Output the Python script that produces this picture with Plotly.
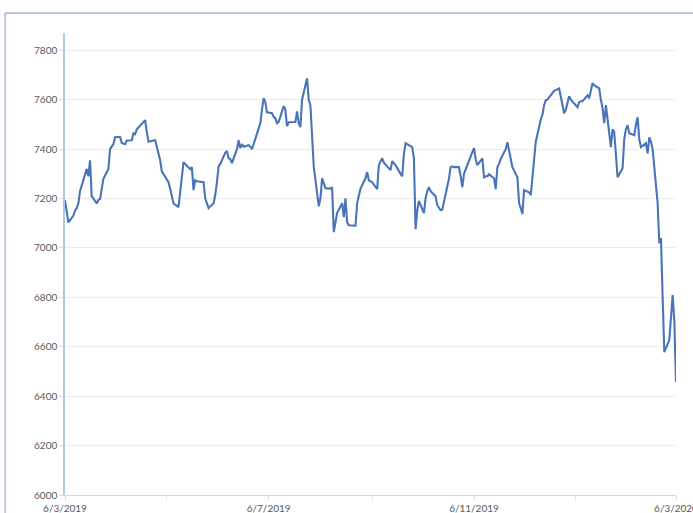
import plotly.graph_objects as go

dates = [
    "2019-03-06", "2019-03-07", "2019-03-08", "2019-03-11", "2019-03-12", "2019-03-13", "2019-03-14", "2019-03-15",
    "2019-03-18", "2019-03-19", "2019-03-20", "2019-03-21", "2019-03-22", "2019-03-25", "2019-03-26", "2019-03-27",
    "2019-03-28", "2019-03-29", "2019-04-01", "2019-04-02", "2019-04-03", "2019-04-04", "2019-04-05", "2019-04-08",
    "2019-04-09", "2019-04-10", "2019-04-11", "2019-04-12", "2019-04-15", "2019-04-16", "2019-04-17", "2019-04-18",
    "2019-04-23", "2019-04-24", "2019-04-25", "2019-04-26", "2019-04-29", "2019-04-30", "2019-05-01", "2019-05-02",
    "2019-05-03", "2019-05-07", "2019-05-08", "2019-05-09", "2019-05-10", "2019-05-13", "2019-05-14", "2019-05-15",
    "2019-05-16", "2019-05-17", "2019-05-20", "2019-05-21", "2019-05-22", "2019-05-23", "2019-05-24", "2019-05-28",
    "2019-05-29", "2019-05-30", "2019-05-31", "2019-06-03", "2019-06-04", "2019-06-05", "2019-06-06", "2019-06-07",
    "2019-06-10", "2019-06-11", "2019-06-12", "2019-06-13", "2019-06-14", "2019-06-17", "2019-06-18", "2019-06-19",
    "2019-06-20", "2019-06-21", "2019-06-24", "2019-06-25", "2019-06-26", "2019-06-27", "2019-06-28", "2019-07-01",
    "2019-07-02", "2019-07-03", "2019-07-04", "2019-07-05", "2019-07-08", "2019-07-09", "2019-07-10", "2019-07-11",
    "2019-07-12", "2019-07-15", "2019-07-16", "2019-07-17", "2019-07-18", "2019-07-19", "2019-07-22", "2019-07-23",
    "2019-07-24", "2019-07-25", "2019-07-26", "2019-07-29", "2019-07-30", "2019-07-31", "2019-08-01", "2019-08-02",
    "2019-08-05", "2019-08-06", "2019-08-07", "2019-08-08", "2019-08-09", "2019-08-12", "2019-08-13", "2019-08-14",
    "2019-08-15", "2019-08-16", "2019-08-19", "2019-08-20", "2019-08-21", "2019-08-22", "2019-08-23", "2019-08-27",
    "2019-08-28", "2019-08-29", "2019-08-30", "2019-09-02", "2019-09-03", "2019-09-04", "2019-09-05", "2019-09-06",
    "2019-09-09", "2019-09-10", "2019-09-11", "2019-09-12", "2019-09-13", "2019-09-16", "2019-09-17", "2019-09-18",
    "2019-09-19", "2019-09-20", "2019-09-23", "2019-09-24", "2019-09-25", "2019-09-26", "2019-09-27", "2019-09-30",
    "2019-10-01", "2019-10-02", "2019-10-03", "2019-10-04", "2019-10-07", "2019-10-08", "2019-10-09", "2019-10-10",
    "2019-10-11", "2019-10-14", "2019-10-15", "2019-10-16", "2019-10-17", "2019-10-18", "2019-10-21", "2019-10-22",
    "2019-10-23", "2019-10-24", "2019-10-25", "2019-10-28", "2019-10-29", "2019-10-30", "2019-10-31", "2019-11-01",
    "2019-11-04", "2019-11-05", "2019-11-06", "2019-11-07", "2019-11-08", "2019-11-11", "2019-11-12", "2019-11-13",
    "2019-11-14", "2019-11-15", "2019-11-18", "2019-11-19", "2019-11-20", "2019-11-21", "2019-11-22", "2019-11-25",
    "2019-11-26", "2019-11-27", "2019-11-28", "2019-11-29", "2019-12-02", "2019-12-03", "2019-12-04", "2019-12-05",
    "2019-12-06", "2019-12-09", "2019-12-10", "2019-12-11", "2019-12-12", "2019-12-13", "2019-12-16", "2019-12-17",
    "2019-12-18", "2019-12-19", "2019-12-20", "2019-12-23", "2019-12-24", "2019-12-27", "2019-12-30", "2019-12-31",
    "2020-01-02", "2020-01-03", "2020-01-06", "2020-01-07", "2020-01-08", "2020-01-09", "2020-01-10", "2020-01-13",
    "2020-01-14", "2020-01-15", "2020-01-16", "2020-01-17", "2020-01-20", "2020-01-21", "2020-01-22", "2020-01-23",
    "2020-01-24", "2020-01-27", "2020-01-28", "2020-01-29", "2020-01-30", "2020-01-31", "2020-02-03", "2020-02-04",
    "2020-02-05", "2020-02-06", "2020-02-07", "2020-02-10", "2020-02-11", "2020-02-12", "2020-02-13", "2020-02-14",
    "2020-02-17", "2020-02-18", "2020-02-19", "2020-02-20", "2020-02-21", "2020-02-24", "2020-02-25", "2020-02-26",
    "2020-02-27", "2020-02-28", "2020-03-02", "2020-03-03", "2020-03-04", "2020-03-05", "2020-03-06",
]

values = [
    7193, 7150, 7104, 7130, 7151, 7161, 7180, 7230,
    7300, 7320, 7290, 7355, 7210, 7180, 7195, 7197,
    7240, 7280, 7320, 7400, 7410, 7420, 7448, 7450,
    7425, 7424, 7420, 7435, 7436, 7464, 7460, 7480,
    7517, 7470, 7430, 7432, 7436, 7410, 7383, 7355,
    7310, 7266, 7240, 7205, 7180, 7165, 7230, 7300,
    7347, 7340, 7319, 7327, 7234, 7274, 7270, 7266,
    7200, 7181, 7161, 7181, 7214, 7265, 7330, 7340,
    7385, 7392, 7363, 7360, 7343, 7400, 7436, 7404,
    7420, 7410, 7416, 7410, 7400, 7420, 7444, 7505,
    7560, 7606, 7590, 7549, 7545, 7530, 7525, 7505,
    7510, 7574, 7560, 7493, 7509, 7509, 7510, 7553,
    7505, 7489, 7600, 7687, 7600, 7578, 7420, 7330,
    7169, 7200, 7282, 7260, 7242, 7240, 7246, 7064,
    7100, 7141, 7181, 7125, 7201, 7104, 7092, 7090,
    7181, 7210, 7240, 7282, 7307, 7274, 7270, 7266,
    7238, 7335, 7350, 7363, 7345, 7320, 7315, 7351,
    7345, 7335, 7300, 7290, 7380, 7424, 7420, 7408,
    7363, 7076, 7150, 7190, 7141, 7201, 7230, 7246,
    7230, 7209, 7173, 7165, 7153, 7155, 7242, 7280,
    7327, 7330, 7327, 7327, 7290, 7246, 7300, 7319,
    7370, 7388, 7404, 7359, 7335, 7363, 7286, 7290,
    7290, 7298, 7282, 7238, 7327, 7340, 7360, 7400,
    7428, 7396, 7350, 7327, 7286, 7181, 7161, 7137,
    7234, 7225, 7214, 7280, 7350, 7430, 7520, 7540,
    7578, 7598, 7600, 7630, 7636, 7645, 7545, 7560,
    7614, 7600, 7575, 7570, 7590, 7594, 7594, 7618,
    7606, 7642, 7667, 7659, 7646, 7600, 7566, 7505,
    7578, 7408, 7480, 7470, 7380, 7286, 7323, 7440,
    7480, 7497, 7464, 7456, 7500, 7529, 7440, 7408,
    7424, 7383, 7448, 7430, 7400, 7181, 7019, 7040,
    6800, 6578, 6627, 6720, 6809, 6705, 6457,
]

x_range = ["2019-03-06", "2020-03-06"]
y_range = [6000, 7870]

fig = go.Figure()
fig.add_trace(go.Scatter(
    x=dates, y=values, mode="lines",
    line=dict(color="#4a74b8", width=2.1),
    showlegend=False,
))

fig.update_layout(
    template="none",
    width=693, height=513,
    margin=dict(l=65, r=17, t=33, b=18),
    paper_bgcolor="white", plot_bgcolor="white",
    font=dict(family="Lato, 'Open Sans', sans-serif", size=10, color="#595959"),
    xaxis=dict(
        type="date", range=x_range, automargin=False,
        tick0="2019-03-06", dtick="M4", tickformat="%-d/%-m/%Y",
        ticklabeloverflow="allow",
        showgrid=False, zeroline=False,
        showline=True, linecolor="#d9d9d9", linewidth=1,
        ticks="outside", ticklen=4, tickcolor="#d9d9d9",
        minor=dict(dtick="M2", tick0="2019-03-06", ticks="outside", ticklen=4, tickcolor="#e3e3e3", showgrid=False),
        tickfont=dict(size=10, color="#595959"),
    ),
    yaxis=dict(
        range=y_range, automargin=False,
        tick0=6000, dtick=200,
        showgrid=True, gridcolor="#ececec", gridwidth=1,
        zeroline=False,
        showline=True, linecolor="#b4c7e7", linewidth=1.5,
        ticks="outside", ticklen=4, tickcolor="#d9d9d9",
        tickfont=dict(size=10, color="#595959"),
    ),
    shapes=[dict(
        type="rect", xref="paper", yref="paper",
        x0=-0.098, x1=1.2, y0=-0.2, y1=1.043,
        line=dict(color="#8fabd6", width=1.2), fillcolor="rgba(0,0,0,0)",
        layer="below",
    )],
)

fig.write_html("out.html")
